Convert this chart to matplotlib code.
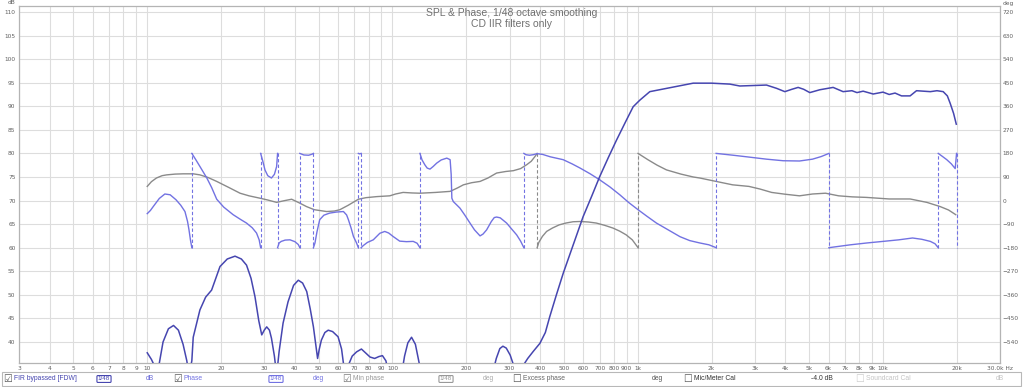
import matplotlib.pyplot as plt
import numpy as np
from matplotlib.patches import Rectangle

# SPL, FIR bypassed [FDW] (dB); values below the axis floor are nulls running off-chart
spl_freq = [10.0, 10.4, 10.8, 11.0, 11.2, 11.6, 12.2, 12.8, 13.4, 14.0, 14.5, 14.8,
            15.2, 15.4, 16.4, 17.3, 18.3, 19.8, 21.2, 22.8, 24.2, 25.4, 26.5, 27.5,
            28.5, 29.3, 30.0, 30.7, 31.5, 32.1, 33.0, 33.7, 34.5, 35.8, 37.5, 39.5,
            41.3, 43.0, 44.7, 46.2, 47.6, 48.8, 49.5, 50.3, 51.3, 53.0, 54.7, 57.0,
            60.0, 62.0, 64.0, 66.0, 68.5, 71.4, 74.7, 78.0, 81.0, 84.6, 88.0, 91.0,
            94.0, 96.7, 100.0, 108.8, 112.0, 115.5, 119.6, 124.0, 128.0, 131.4, 180.0,
            255.0, 265.0, 274.0, 282.0, 291.0, 302.0, 312.0, 318.0, 330.0, 341.0, 356.0,
            375.0, 399.0, 420.0, 438.0, 466.0, 497.0, 545.0, 599.0, 650.0, 700.0, 760.0,
            819.0, 890.0, 958.0, 1020.0, 1120.0, 1310.0, 1500.0, 1683.0, 2000.0, 2375.0,
            2608.0, 3000.0, 3349.0, 3684.0, 3979.0, 4250.0, 4508.0, 4750.0, 5030.0,
            5525.0, 6262.0, 6877.0, 7470.0, 7834.0, 8300.0, 8700.0, 9120.0, 10000.0,
            10600.0, 11200.0, 11900.0, 12900.0, 13700.0, 15600.0, 16600.0, 17600.0,
            18300.0, 18800.0, 19400.0, 19900.0]
spl_db = [37.7, 36.3, 34.5, 33.0, 35.5, 40.0, 42.8, 43.5, 42.5, 39.5, 36.0, 33.0,
          36.0, 41.0, 46.8, 49.5, 51.0, 56.0, 57.6, 58.2, 57.6, 56.3, 53.5, 49.6,
          44.5, 41.5, 42.5, 43.2, 42.5, 40.8, 37.0, 33.0, 38.0, 44.0, 48.5, 52.0,
          53.1, 52.5, 50.7, 47.0, 43.2, 39.0, 36.5, 38.5, 40.4, 42.0, 42.5, 42.2,
          41.1, 38.5, 33.0, 35.0, 37.0, 37.9, 38.5, 37.6, 36.8, 36.5, 36.9, 37.1,
          36.0, 33.0, 30.0, 33.0, 37.0, 39.8, 41.0, 39.5, 36.0, 33.0, 30.0,
          33.0, 36.5, 38.6, 39.1, 38.7, 37.2, 35.0, 33.0, 33.0, 35.0, 36.5,
          38.0, 39.7, 42.0, 45.4, 50.0, 54.6, 60.5, 66.6, 71.0, 75.1, 79.2,
          82.8, 86.6, 89.9, 91.3, 93.1, 93.8, 94.4, 94.9, 94.9, 94.7,
          94.3, 94.4, 94.5, 93.8, 93.1, 93.6, 94.0, 93.6, 92.9,
          93.5, 94.0, 93.1, 93.3, 92.9, 93.2, 92.9, 92.6, 93.0,
          92.5, 92.8, 92.2, 92.2, 93.3, 93.1, 93.3, 93.1,
          92.2, 90.6, 88.5, 86.2]

# Phase (deg, wrapped to +/-180; a repeated frequency marks a wrap)
phase_freq = [10.0, 10.3, 10.58, 11.2, 11.8, 12.4, 13.1, 13.7, 14.25, 14.6, 14.8, 15.0, 15.2,
              15.2, 15.8, 16.4, 17.5, 18.3, 19.2, 20.5, 22.4, 24.0, 25.4, 26.8, 27.9, 28.6, 29.0,
              29.0, 29.6, 30.2, 31.0, 32.1, 33.0, 33.7, 34.0,
              34.0, 34.5, 35.2, 36.5, 38.2, 40.0, 41.3, 41.9,
              41.9, 43.5, 45.5, 47.0, 47.6,
              47.6, 48.3, 49.2, 50.5, 52.5, 55.4, 59.0, 63.1, 65.0, 66.1, 67.8, 69.3, 71.2, 72.6,
              72.6, 73.5, 74.5,
              74.5, 76.0, 79.0, 83.5, 88.8, 93.0, 96.5, 100.5, 107.0, 114.0, 121.5, 126.0, 129.4,
              129.4, 132.0, 135.6, 138.5, 142.2, 146.5, 151.5, 158.0, 166.5, 171.8, 173.5, 174.6,
              177.0, 182.0, 188.4, 197.0, 207.0, 216.0, 227.5, 234.0, 242.0, 253.0, 260.0, 265.8,
              275.0, 292.0, 305.0, 320.8, 333.0, 343.3,
              343.3, 350.0, 362.0, 375.0, 389.0, 410.0, 440.0, 496.6, 540.0, 582.0, 640.0, 700.0,
              770.0, 845.0, 920.0, 1003.0, 1090.0, 1192.0, 1320.0, 1487.0, 1630.0, 1791.0, 1950.0,
              2088.0,
              2088.0, 2450.0, 2840.0, 3350.0, 3917.0, 4567.0, 5160.0, 5600.0, 6020.0,
              6020.0, 7370.0, 8600.0, 10000.0, 11600.0, 13200.0, 14400.0, 15600.0, 16300.0, 16800.0,
              16800.0, 17500.0, 18200.0, 19000.0, 19700.0, 19950.0,
              19950.0]
phase_deg = [-50, -38, -23, 8, 25, 22, 3, -18, -42, -80, -112, -150, -180,
             180, 155, 130, 86, 50, 5, -25, -54, -72, -86, -104, -124, -150, -180,
             180, 150, 117, 95, 86, 100, 130, 180,
             -180, -162, -156, -151, -150, -157, -168, -180,
             180, 174, 173, 177, 180,
             -180, -162, -120, -73, -56, -48, -44, -42, -55, -73, -105, -137, -160, -180,
             180, 178, 180,
             -180, -172, -160, -150, -125, -118, -124, -137, -155, -157, -156, -163, -180,
             180, 155, 136, 124, 120, 130, 143, 155, 162, 156, 100, 9,
             -4, -15, -29, -55, -86, -112, -135, -128, -112, -80, -65, -63,
             -66, -86, -107, -131, -155, -180,
             180, 175, 173, 175, 179, 176, 167, 156, 140, 124, 102, 79,
             52, 22, -8, -35, -60, -86, -110, -138, -153, -162, -169,
             -180,
             180, 173, 166, 158, 152, 151, 158, 168, 180,
             -180, -169, -162, -156, -150, -143, -148, -156, -165, -180,
             180, 168, 156, 140, 122, 180,
             -180]

# Min phase (deg, wrapped)
minph_freq = [10.0, 10.4, 10.9, 11.5, 12.0, 13.0, 14.0, 15.4, 16.4, 17.7, 19.2, 21.5, 23.9,
              26.0, 28.8, 31.0, 33.7, 36.0, 38.8, 41.5, 44.6, 48.0, 53.9, 58.0, 61.0, 66.0,
              72.6, 78.0, 86.3, 97.5, 103.0, 110.5, 120.0, 129.4, 150.0, 171.8, 184.0, 194.6,
              210.0, 227.5, 245.0, 265.8, 290.0, 311.0, 333.0, 352.8, 368.0, 381.0, 389.0,
              389.0, 395.0, 408.5, 425.0, 448.8, 478.0, 509.0, 545.0, 582.0, 630.0, 678.0,
              735.0, 792.0, 845.0, 897.0, 950.0, 1003.0,
              1003.0, 1100.0, 1200.0, 1310.0, 1500.0, 1683.0, 1791.0, 2088.0, 2437.0, 2840.0,
              3150.0, 3515.0, 4000.0, 4567.0, 5160.0, 5830.0, 6596.0, 7500.0, 8559.0, 10600.0,
              12900.0, 15100.0, 17100.0, 18500.0, 19800.0]
minph_deg = [54, 72, 86, 95, 98, 101, 102, 102, 98, 88, 73, 50, 28,
             18, 9, 2, -7, -1, 5, -8, -23, -35, -42, -40, -35, -18,
             5, 11, 15, 18, 25, 31, 29, 28, 31, 35, 48, 60,
             68, 73, 86, 105, 111, 114, 122, 137, 150, 168, 180,
             -180, -160, -137, -118, -105, -93, -86, -81, -80, -82, -86,
             -95, -105, -117, -131, -150, -180,
             180, 156, 135, 117, 101, 90, 86, 73, 60, 54,
             44, 31, 24, 18, 25, 28, 18, 14, 12, 6,
             6, -7, -23, -36, -54]

x_ticks = [3, 4, 5, 6, 7, 8, 9, 10, 20, 30, 40, 50, 60, 70, 80, 90, 100, 200, 300, 400, 500,
           600, 700, 800, 900, 1000, 2000, 3000, 4000, 5000, 6000, 7000, 8000, 9000, 10000,
           20000, 30000]
x_labels = ['3', '4', '5', '6', '7', '8', '9', '10', '20', '30', '40', '50', '60', '70', '80',
            '90', '100', '200', '300', '400', '500', '600', '700', '800', '900', '1k', '2k',
            '3k', '4k', '5k', '6k', '7k', '8k', '9k', '10k', '20k', '30.0k Hz']
db_ticks = list(range(40, 111, 5))
deg_ticks = list(range(-540, 721, 90))

SPL_COL = '#4646b0'
PH_COL = '#7272e2'
MIN_COL = '#8a8a8a'
TXT = '#606060'

W, H = 1024, 387
fig = plt.figure(figsize=(W / 100, H / 100), dpi=100)
top, bot = 6, 362.7
ax = fig.add_axes([19 / W, 1 - bot / H, 981 / W, (bot - top) / H])
ax.set_xscale('log')
ax.set_xlim(3, 30000)
ylo, yhi = 35.6, 111.27
ax.set_ylim(ylo, yhi)
ax.set_xticks(x_ticks)
ax.set_xticklabels(x_labels)
ax.xaxis.set_minor_locator(plt.NullLocator())
ax.set_yticks(db_ticks)
ax.grid(True, color='#dddddd', lw=0.8)
ax.set_axisbelow(True)
ax.tick_params(length=0, labelsize=4.2, colors=TXT, pad=2.5)
for s in ax.spines.values():
    s.set_color('#b4b4b4')
    s.set_linewidth(0.9)

# phase axis: 18 deg per dB, 0 deg at 70 dB
ax2 = ax.twinx()
ax2.set_ylim((ylo - 70) * 18, (yhi - 70) * 18)
ax2.set_yticks(deg_ticks)
ax2.tick_params(length=0, labelsize=4.2, colors=TXT, pad=2)
for s in ax2.spines.values():
    s.set_visible(False)


def draw_wrapped(axis, f, d, color):
    f = np.asarray(f, dtype=float)
    d = np.asarray(d, dtype=float)
    jumps = np.where(np.abs(np.diff(d)) > 300)[0]
    start = 0
    for j in jumps:
        axis.plot(f[start:j + 1], d[start:j + 1], color=color, lw=1.0)
        axis.plot(f[j:j + 2], d[j:j + 2], color=color, lw=0.8, ls=(0, (3, 2)))
        start = j + 1
    if len(f) - start > 1:
        axis.plot(f[start:], d[start:], color=color, lw=1.0)


draw_wrapped(ax2, minph_freq, minph_deg, MIN_COL)
draw_wrapped(ax2, phase_freq, phase_deg, PH_COL)
# SPL drawn on the phase axes (same scale) so the grid stays underneath everything
spl_as_deg = [(v - 70) * 18 for v in spl_db]
ax2.plot(spl_freq, spl_as_deg, color=SPL_COL, lw=1.1)

fig.text(511.7 / W, 1 - 13.3 / H, 'SPL & Phase, 1/48 octave smoothing', ha='center',
         va='center', fontsize=7.5, color='#707070', family='Liberation Sans')
fig.text(511.7 / W, 1 - 24 / H, 'CD IIR filters only', ha='center', va='center',
         fontsize=7.5, color='#707070', family='Liberation Sans')
fig.text(11 / W, 1 - 3 / H, 'dB', ha='center', va='center', fontsize=4.2, color=TXT)
fig.text(1008 / W, 1 - 3 / H, 'deg', ha='center', va='center', fontsize=4.2, color=TXT)

# bottom legend bar
fig.patches.append(Rectangle((2 / W, 1 - 386 / H), 1019 / W, 14 / H, transform=fig.transFigure,
                             facecolor='white', edgecolor='#b8b8b8', lw=0.8))
ly = 1 - 379 / H
boxes = [(8, '\u2611', '#555555'), (178, '\u2611', '#555555'), (347, '\u2611', '#777777'),
         (517, '\u2610', '#555555'), (688, '\u2610', '#555555'), (860, '\u2610', '#cccccc')]
for x, t, c in boxes:
    fig.text(x / W, ly, t, ha='center', va='center', fontsize=7, color=c, family='DejaVu Sans')
names = [(14, 'FIR bypassed [FDW]', SPL_COL), (184, 'Phase', PH_COL),
         (353, 'Min phase', '#999999'), (523, 'Excess phase', '#666666'),
         (694, 'Mic/Meter Cal', '#333333'), (866, 'Soundcard Cal', '#c4c4c4')]
for x, t, c in names:
    fig.text(x / W, ly, t, ha='left', va='center', fontsize=4.9, color=c,
             family='Liberation Sans')
units = [(150, 'dB', '#6a6ad8'), (318, 'deg', PH_COL), (488, 'deg', '#aaaaaa'),
         (657, 'deg', '#555555'), (822, '-4.0 dB', '#333333'), (1000, 'dB', '#c4c4c4')]
for x, t, c in units:
    fig.text(x / W, ly, t, ha='center', va='center', fontsize=4.9, color=c,
             family='Liberation Sans')
for x, c in [(104, SPL_COL), (276, PH_COL), (446, '#999999')]:
    fig.lines.append(plt.Line2D([(x - 10) / W, (x + 10) / W], [ly, ly], color=c, lw=0.8,
                                transform=fig.transFigure, zorder=0))
    fig.text(x / W, ly, '1/48', ha='center', va='center', fontsize=4.5, color=c,
             family='Liberation Sans',
             bbox=dict(boxstyle='round,pad=0.15', fc='white', ec=c, lw=0.8))

fig.savefig('out.png', dpi=100)
